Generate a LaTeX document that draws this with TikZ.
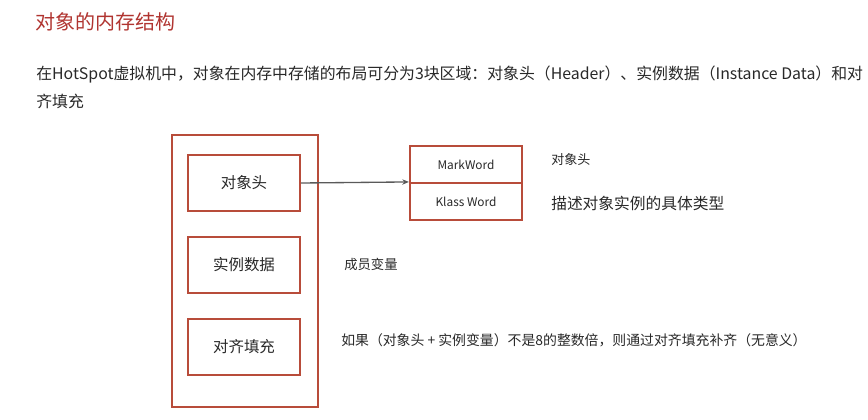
\documentclass[tikz,border=0pt]{standalone}
\usepackage{fontspec}
\setmainfont{Noto Sans CJK SC}
\usetikzlibrary{arrows.meta}
\definecolor{titlered}{RGB}{176,52,48}
\definecolor{boxred}{RGB}{184,76,58}
\definecolor{txt}{RGB}{40,40,40}
\definecolor{arrowgray}{RGB}{90,90,90}
\tikzset{
  lbl/.style={anchor=west,inner sep=0pt,text=txt},
  redbox/.style={draw=boxred,line width=1.6pt,inner sep=0pt},
  inbox/.style={draw=boxred,line width=1.6pt,minimum width=84pt,minimum height=42pt,inner sep=0pt,text=txt,font=\fontsize{11.6pt}{13pt}\selectfont},
  wordbox/.style={draw=boxred,line width=1.6pt,minimum width=84pt,minimum height=27.75pt,inner sep=0pt,text=txt,font=\fontsize{8.9pt}{10pt}\selectfont},
}
\begin{document}
\begin{tikzpicture}[x=0.75pt,y=-0.75pt]
\useasboundingbox (0,0) rectangle (868,419);
\node[lbl,text=titlered,font=\fontsize{15pt}{18pt}\selectfont] (title) at (35,22) {对象的内存结构};
\node[lbl,font=\fontsize{11.9pt}{14pt}\selectfont] (p1) at (36,75) {在HotSpot虚拟机中，对象在内存中存储的布局可分为3块区域：对象头（Header）、实例数据（Instance Data）和对};
\node[lbl,font=\fontsize{11.9pt}{14pt}\selectfont] (p2) at (36,101) {齐填充};
% outer box
\node[redbox,minimum width=109.5pt,minimum height=204pt] (outer) at (245,271) {};
\node[inbox] (hdr) at (244,183) {对象头};
\node[inbox] (data) at (244,265) {实例数据};
\node[inbox] (pad) at (244,347) {对齐填充};
% right box
\node[wordbox] (mark) at (466,164.5) {MarkWord};
\node[wordbox] (klass) at (466,201.5) {Klass Word};
\draw[arrowgray,line width=1pt,-{Stealth[length=5pt,width=4pt]}] (hdr.east) -- (klass.north west);
\node[lbl,font=\fontsize{9.8pt}{12pt}\selectfont] (n1) at (551,159) {对象头};
\node[lbl,font=\fontsize{11.8pt}{14pt}\selectfont] (n2) at (551,203) {描述对象实例的具体类型};
\node[lbl,font=\fontsize{10pt}{12pt}\selectfont] (n3) at (344,264) {成员变量};
\node[lbl,font=\fontsize{10.4pt}{12pt}\selectfont] (n4) at (341,340) {如果（对象头 + 实例变量）不是8的整数倍，则通过对齐填充补齐（无意义）};
\end{tikzpicture}
\end{document}
